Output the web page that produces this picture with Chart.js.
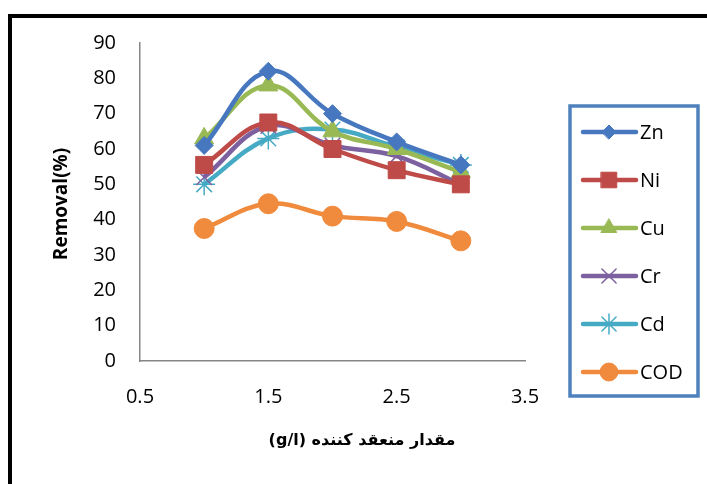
<!DOCTYPE html>
<html>
<head>
<meta charset="utf-8">
<script src="https://cdn.jsdelivr.net/npm/chart.js@4/dist/chart.umd.min.js"></script>
<style>
  html, body { margin: 0; padding: 0; background: #fff; overflow: hidden; }
  #wrap { position: relative; width: 707px; height: 484px; }
  #frame { position: absolute; left: 8px; top: 14px; width: 800px; height: 600px; border: 4px solid #000; box-sizing: border-box; }
  #chart { position: absolute; left: 0; top: 0; }
  #xtitle { position: absolute; top: 430px; left: 242px; width: 240px; text-align: center;
    font-family: "DejaVu Sans", sans-serif; font-weight: bold; font-size: 16px; color: #000; }
</style>
</head>
<body>
<div id="wrap">
  <div id="frame"></div>
  <canvas id="chart" width="707" height="484"></canvas>
  <div id="xtitle" dir="rtl">مقدار منعقد کننده (g/l)</div>
</div>
<script>
const doses = [1.0, 1.5, 2.0, 2.5, 3.0];
const seriesNames = ['Zn', 'Ni', 'Cu', 'Cr', 'Cd', 'COD'];
const zn = [61, 82, 70, 62, 55.5];
const ni = [55.5, 67.5, 60, 54, 50];
const cu = [63, 78, 65, 60, 53.5];
const cr = [52, 66.5, 61, 58, 50];
const cd = [50, 63, 65.5, 60.5, 55.5];
const cod = [37.5, 44.5, 41, 39.5, 34];
const xTicks = [0.5, 1.5, 2.5, 3.5];
const yTicks = [0, 10, 20, 30, 40, 50, 60, 70, 80, 90];

const fontFamily = 'Open Sans, Liberation Sans, sans-serif';
const tickFont = { family: fontFamily, size: 20 };

function makeSet(name, values, color, style, radius, bw, legendRadius) {
  return {
    label: name,
    data: doses.map((d, i) => ({ x: d, y: values[i] })),
    borderColor: color,
    backgroundColor: color,
    borderWidth: 4.5,
    pointStyle: style,
    pointRadius: radius,
    pointBorderWidth: bw,
    pointBorderColor: color,
    pointBackgroundColor: color,
    legendRadius: legendRadius,
    tension: 0.4,
    fill: false
  };
}

const datasets = [
  makeSet(seriesNames[0], zn, '#4677BF', 'rectRot', 9, 1, 7),
  makeSet(seriesNames[1], ni, '#BE4B48', 'rect', 12, 1, 11),
  makeSet(seriesNames[2], cu, '#98B954', 'triangle', 11, 1, 9),
  makeSet(seriesNames[3], cr, '#7D60A0', 'crossRot', 11, 1.5, 10),
  makeSet(seriesNames[4], cd, '#46AAC5', 'star', 11, 1.5, 10),
  makeSet(seriesNames[5], cod, '#F08A3C', 'circle', 10, 1, 9)
];

// legend box + rotated y title drawn on the canvas
const extras = {
  id: 'extras',
  afterDraw(chart) {
    const ctx = chart.ctx;
    ctx.save();
    ctx.strokeStyle = '#4F81BD';
    ctx.lineWidth = 3.5;
    ctx.strokeRect(570, 106, 128, 290);
    chart.data.datasets.forEach((ds, i) => {
      const y = 132 + i * 48;
      ctx.strokeStyle = ds.borderColor;
      ctx.fillStyle = ds.borderColor;
      ctx.lineWidth = 4.5;
      ctx.lineCap = 'round';
      ctx.beginPath();
      ctx.moveTo(583, y);
      ctx.lineTo(636, y);
      ctx.stroke();
      ctx.lineWidth = ds.pointBorderWidth;
      Chart.helpers.drawPoint(ctx, {
        pointStyle: ds.pointStyle,
        radius: ds.legendRadius,
        rotation: 0,
        borderWidth: ds.pointBorderWidth
      }, 609, y);
      ctx.fillStyle = '#000';
      ctx.font = '20px ' + fontFamily;
      ctx.textBaseline = 'middle';
      ctx.textAlign = 'left';
      ctx.fillText(ds.label, 640, y + 1);
    });
    ctx.translate(62, 204);
    ctx.rotate(-Math.PI / 2);
    ctx.fillStyle = '#000';
    ctx.font = 'bold 19px ' + fontFamily;
    ctx.textAlign = 'center';
    ctx.textBaseline = 'middle';
    ctx.fillText('Removal(%)', 0, 0);
    ctx.restore();
  }
};

new Chart(document.getElementById('chart'), {
  type: 'line',
  data: { datasets },
  plugins: [extras],
  options: {
    responsive: false,
    animation: false,
    layout: { padding: { left: 0, right: 182, top: 43, bottom: 0 } },
    plugins: {
      legend: { display: false },
      tooltip: { enabled: false }
    },
    scales: {
      x: {
        type: 'linear',
        min: 0.5,
        max: 3.5,
        afterBuildTicks: (s) => { s.ticks = xTicks.map(v => ({ value: v })); },
        afterFit: (s) => { s.height = 123; },
        grid: { display: false, drawTicks: true, tickLength: 6, tickColor: '#868686' },
        border: { color: '#868686', width: 1.5 },
        ticks: { color: '#000', font: tickFont, padding: 18, maxRotation: 0 }
      },
      y: {
        min: 0,
        max: 90,
        afterBuildTicks: (s) => { s.ticks = yTicks.map(v => ({ value: v })); },
        afterFit: (s) => { s.width = 140; },
        grid: { display: false, drawTicks: true, tickLength: 6, tickColor: '#868686' },
        border: { color: '#868686', width: 1.5 },
        ticks: { color: '#000', font: tickFont, padding: 18 }
      }
    }
  }
});
</script>
</body>
</html>
